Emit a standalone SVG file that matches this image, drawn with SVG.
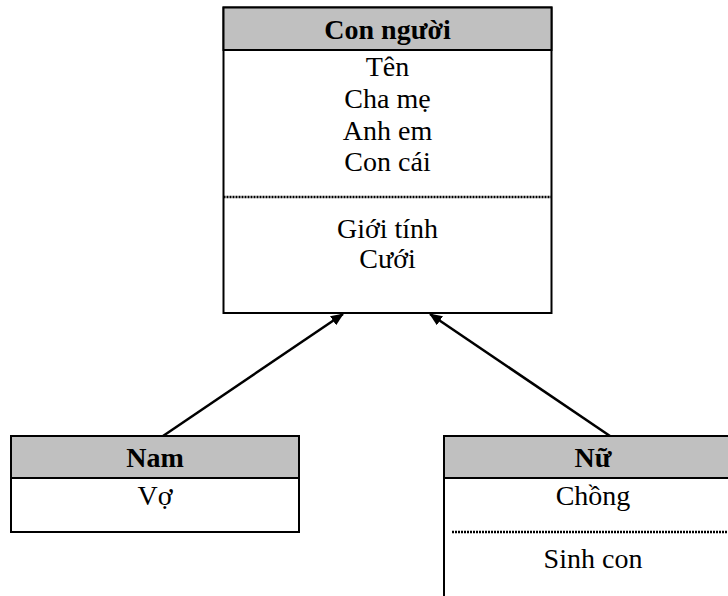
<svg xmlns="http://www.w3.org/2000/svg" width="728" height="596" viewBox="0 0 728 596">
<defs>
<style>
.box{fill:#fff;stroke:#000;stroke-width:2}
.hdr{fill:#c0c0c0;stroke:#000;stroke-width:2}
.t{font-family:"Liberation Serif","Times New Roman",serif;font-size:28px;fill:#000;text-anchor:middle}
.b{font-weight:bold}
.div{stroke:#000;stroke-width:2.5;stroke-dasharray:2 1}
.edge{stroke:#000;stroke-width:2.5;fill:none}
</style>
<marker id="arr" markerWidth="13" markerHeight="11" refX="12" refY="5.5" orient="auto" markerUnits="userSpaceOnUse" viewBox="0 0 13 11">
<path d="M0,0 L13,5.5 L0,11 z" fill="#000"/>
</marker>
</defs>
<g id="con-nguoi">
<rect class="box" x="223.5" y="7.5" width="328" height="305.5"/>
<rect class="hdr" x="223.5" y="7.5" width="328" height="42.5"/>
<text class="t b" x="387.5" y="39">Con người</text>
<text class="t" x="387.5" y="76">Tên</text>
<text class="t" x="387.5" y="108">Cha mẹ</text>
<text class="t" x="387.5" y="140">Anh em</text>
<text class="t" x="387.5" y="171">Con cái</text>
<line class="div" x1="223.5" y1="197" x2="551.5" y2="197"/>
<text class="t" x="387.5" y="238">Giới tính</text>
<text class="t" x="387.5" y="268">Cưới</text>
</g>
<g id="nam">
<rect class="box" x="11" y="436" width="288" height="96"/>
<rect class="hdr" x="11" y="436" width="288" height="42"/>
<text class="t b" x="155" y="467">Nam</text>
<text class="t" x="155" y="505">Vợ</text>
</g>
<g id="nu">
<rect class="box" x="444" y="436" width="300" height="170"/>
<rect class="hdr" x="444" y="436" width="300" height="42"/>
<text class="t b" x="593" y="467">Nữ</text>
<text class="t" x="593" y="505">Chồng</text>
<line class="div" x1="452" y1="532" x2="728" y2="532"/>
<text class="t" x="593" y="568">Sinh con</text>
</g>
<g id="connectors">
<line class="edge" x1="163" y1="436" x2="343" y2="314" marker-end="url(#arr)"/>
<line class="edge" x1="610" y1="436" x2="430" y2="314" marker-end="url(#arr)"/>
</g>
</svg>
